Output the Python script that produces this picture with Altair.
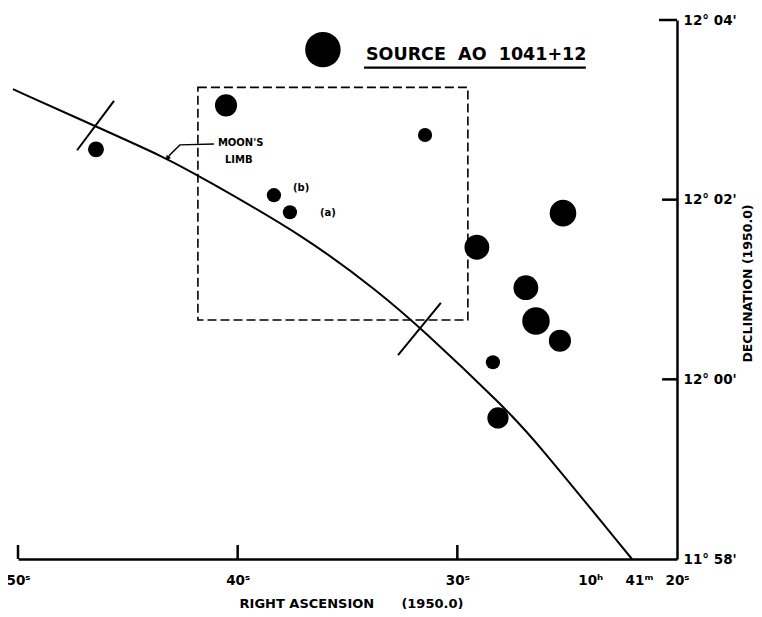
import math
import json
import altair as alt
import pandas as pd

NB = "\u00a0"

# ---------------- data (RA in seconds of 10h41m, Dec in arcmin relative to 12°00') -------------
src_ra = [36.12, 46.45, 40.53, 31.47, 38.35, 37.62, 25.19, 29.11, 26.88, 26.42, 25.33, 28.38, 28.15]
src_dec = [3.67, 2.56, 3.05, 2.72, 2.05, 1.86, 1.85, 1.47, 1.02, 0.65, 0.43, 0.19, -0.43]
src_radius = [20, 9, 12.5, 8, 8, 8, 15, 14, 14, 15.5, 12.5, 8, 12]

limb_ra = [50.23, 46.50, 43.22, 41.81, 36.85, 33.52, 31.70, 27.74, 26.56, 22.05]
limb_dec = [3.23, 2.82, 2.46, 2.27, 1.58, 0.96, 0.58, -0.34, -0.65, -2.0]

cross_ra1 = [47.31, 32.70]
cross_dec1 = [2.55, 0.27]
cross_ra2 = [45.63, 30.75]
cross_dec2 = [3.10, 0.85]

box_ra = [41.81, 29.52]
box_dec = [3.25, 0.66]

arrow_ra = [41.08, 42.63, 43.08, 43.20]
arrow_dec = [2.62, 2.61, 2.50, 2.46]

note_text = ["MOON'S", "LIMB", "(b)", "(a)"]
note_ra = [40.90, 40.58, 37.48, 36.25]
note_dec = [2.63, 2.44, 2.13, 1.85]

title_text = "SOURCE" + NB * 2 + "AO" + NB * 2 + "1041+12"
title_ra = [34.16]
title_dec = [3.61]
underline_ra = [34.25, 24.15]
underline_dec = [3.47]

x_title = "RIGHT ASCENSION" + NB * 6 + "(1950.0)"
y_title = "DECLINATION" + NB + "(1950.0)"
x_tick_values = [50, 40, 30, 23.95, 21.73, 20]
x_tick_labels = ["50ˢ", "40ˢ", "30ˢ", "10ʰ", "41ᵐ", "20ˢ"]
x_tick_marks = [50, 40, 30]
y_tick_values = [-2, 0, 2, 4]
y_tick_labels = ["11° 58'", "12° 00'", "12° 02'", "12° 04'"]
y_tick_marks = [4, 2, 0]
y_tick_len = [0.82, 0.68, 0.68]

# ---------------- chart ----------------
FONT = "DejaVu Sans"
xs = alt.Scale(domain=[50, 20], nice=False, zero=False)
ys = alt.Scale(domain=[-2, 4], nice=False, zero=False)


def expr(values, labels):
    parts = ""
    for v, l in zip(values, labels):
        parts += f"abs(datum.value - ({v})) < 0.01 ? {json.dumps(l, ensure_ascii=False)} : "
    return parts + "''"


x_axis = alt.Axis(
    values=x_tick_values, labelExpr=expr(x_tick_values, x_tick_labels),
    ticks=False, tickSize=0, grid=False, domain=True, domainColor="black", domainWidth=2.5,
    labelFont=FONT, labelFontWeight="bold", labelFontSize=13.5, labelColor="black",
    labelPadding=14, labelFlush=False, labelOverlap=False,
    title=x_title, titleFont=FONT, titleFontWeight="bold",
    titleFontSize=13, titleColor="black", titleX=333, titleY=44,
    titleAlign="center", titleBaseline="middle",
)
y_axis = alt.Axis(
    orient="right", values=y_tick_values, labelExpr=expr(y_tick_values, y_tick_labels),
    ticks=False, tickSize=0, grid=False, domain=True, domainColor="black", domainWidth=2.5,
    labelFont=FONT, labelFontWeight="bold", labelFontSize=13.5, labelColor="black",
    labelPadding=6, labelAlign="left", labelBaseline="middle", labelFlush=False, labelOverlap=False,
    title=y_title, titleFont=FONT, titleFontWeight="bold", titleFontSize=12.5,
    titleColor="black", titleAngle=270, titleX=70, titleY=263,
    titleAlign="center", titleBaseline="middle",
)


def X(field="ra"):
    return alt.X(f"{field}:Q", scale=xs, axis=x_axis)


def Y(field="dec"):
    return alt.Y(f"{field}:Q", scale=ys, axis=y_axis)


src = pd.DataFrame({"ra": src_ra, "dec": src_dec,
                    "area": [math.pi * r * r for r in src_radius]})
sources = alt.Chart(src).mark_circle(color="black", opacity=1).encode(
    x=X(), y=Y(), size=alt.Size("area:Q", scale=None, legend=None)
)

limb = alt.Chart(pd.DataFrame({"ra": limb_ra, "dec": limb_dec})).mark_line(
    color="black", strokeWidth=2, interpolate="basis"
).encode(x=X(), y=Y())

crosses = alt.Chart(pd.DataFrame({"ra": cross_ra1, "dec": cross_dec1,
                                  "ra2": cross_ra2, "dec2": cross_dec2})).mark_rule(
    color="black", strokeWidth=2
).encode(x=X(), y=Y(), x2="ra2:Q", y2="dec2:Q")

box = alt.Chart(pd.DataFrame({"ra": [box_ra[0]], "ra2": [box_ra[1]],
                              "dec": [box_dec[0]], "dec2": [box_dec[1]]})).mark_rect(
    fillOpacity=0, stroke="black", strokeWidth=1.6, strokeDash=[9, 4]
).encode(x=X(), y=Y(), x2="ra2:Q", y2="dec2:Q")

arrow = alt.Chart(pd.DataFrame({"ra": arrow_ra, "dec": arrow_dec,
                                "i": list(range(len(arrow_ra)))})).mark_line(
    color="black", strokeWidth=1.5
).encode(x=X(), y=Y(), order="i:Q")
arrow_head = alt.Chart(pd.DataFrame({"ra": [arrow_ra[-1]], "dec": [arrow_dec[-1]]})).mark_point(
    shape="triangle-up", angle=217, filled=True, color="black", size=30, opacity=1
).encode(x=X(), y=Y())

notes = alt.Chart(pd.DataFrame({"ra": note_ra, "dec": note_dec, "t": note_text})).mark_text(
    font=FONT, fontWeight="bold", fontSize=10, align="left", baseline="middle", color="black"
).encode(x=X(), y=Y(), text="t:N")

title = alt.Chart(pd.DataFrame({"ra": title_ra, "dec": title_dec, "t": [title_text]})).mark_text(
    font=FONT, fontWeight="bold", fontSize=17.5, align="left", baseline="middle", color="black"
).encode(x=X(), y=Y(), text="t:N")
underline = alt.Chart(pd.DataFrame({"ra": [underline_ra[0]], "ra2": [underline_ra[1]],
                                    "dec": underline_dec})).mark_rule(
    color="black", strokeWidth=2.2
).encode(x=X(), y=Y(), x2="ra2:Q")

xticks = alt.Chart(pd.DataFrame({"ra": x_tick_marks, "dec": [-2] * 3,
                                 "dec2": [-2 + 14 / 89.83] * 3})).mark_rule(
    color="black", strokeWidth=2.5
).encode(x=X(), y=Y(), y2="dec2:Q")
yticks = alt.Chart(pd.DataFrame({"dec": y_tick_marks, "ra": [20] * 3,
                                 "ra2": [20 + l for l in y_tick_len]})).mark_rule(
    color="black", strokeWidth=2.5
).encode(x=X(), y=Y(), x2="ra2:Q")

chart = alt.layer(
    box, limb, crosses, arrow, arrow_head, sources, notes, title, underline, xticks, yticks
).properties(
    width=659, height=539,
    autosize=alt.AutoSizeParams(type="none"),
    padding={"left": 10, "top": 12, "right": 77, "bottom": 50},
    background="white",
).configure_view(strokeWidth=0)

chart.save("out.html", embed_options={"renderer": "svg", "actions": False})
